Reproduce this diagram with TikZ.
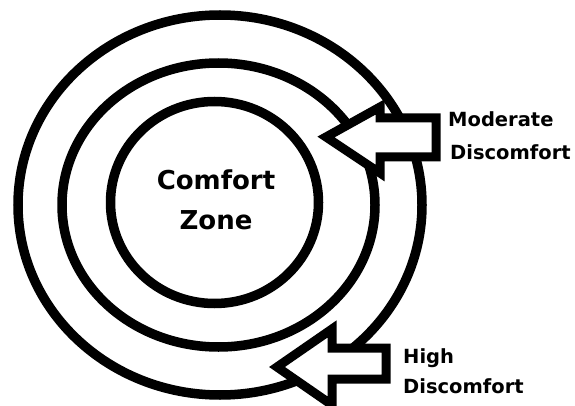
\documentclass[tikz,border=0pt]{standalone}
\usepackage{fontspec}
\setmainfont{DejaVu Sans}
\usepackage{tikz}
\usetikzlibrary{positioning}

\begin{document}
\begin{tikzpicture}[
    x=1pt, y=-1pt,
    ring/.style={draw=black, line width=9.5pt},
    blk/.style={draw=black, fill=white, line width=9pt, line join=miter},
    lbl/.style={anchor=base west, inner sep=0pt, font=\bfseries\fontsize{19.5}{20}\selectfont},
    mid/.style={align=center, inner sep=0pt, font=\bfseries\fontsize{26}{40}\selectfont}
  ]
    \useasboundingbox (0,0) rectangle (575,406);
    % the three zones
    \draw[ring] (220,205) ellipse [x radius=202, y radius=190];
    \draw[ring] (218.5,205) ellipse [x radius=156.5, y radius=142];
    \draw[ring] (214.5,202.5) ellipse [x radius=104, y radius=101];
    \node[mid] (zone) at (216,200) {Comfort\\Zone};
    % arrows pushing in
    \coordinate (modtip) at (326,137);
    \draw[blk] (modtip) -- (380,107) -- (380,118) -- (436,118) -- (436,157)
      -- (380,157) -- (380,173) -- cycle;
    \coordinate (hightip) at (277,367);
    \draw[blk] (hightip) -- (332,329) -- (332,348) -- (386,348) -- (386,379)
      -- (332,379) -- (332,405) -- cycle;
    % labels
    \node[lbl] (mod1) at (448,127) {Moderate};
    \node[lbl] (mod2) at (450,160) {Discomfort};
    \node[lbl] (high1) at (403,363) {High};
    \node[lbl] (high2) at (403,393) {Discomfort};
\end{tikzpicture}
\end{document}
